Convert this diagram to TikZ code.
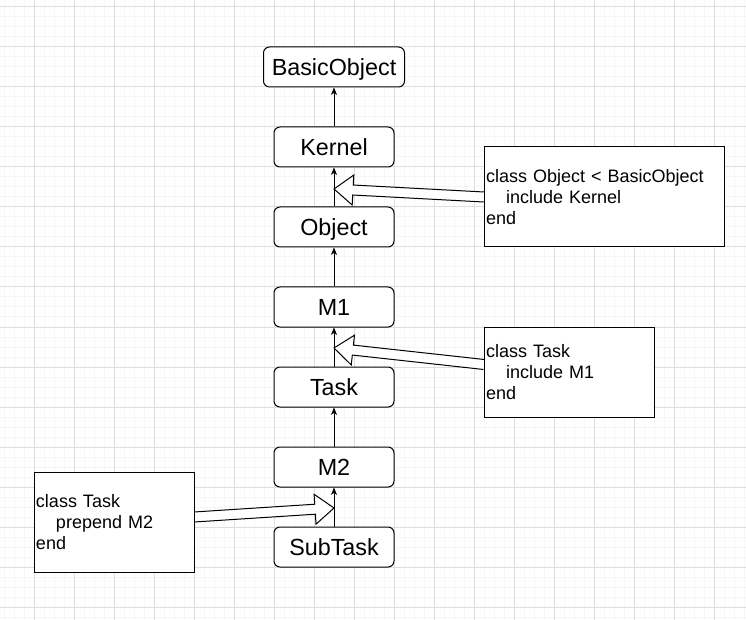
\documentclass[tikz,border=0pt]{standalone}
\usepackage{fontspec}
\setmainfont{Liberation Sans}
\usetikzlibrary{calc,arrows.meta}
\definecolor{gridmajor}{RGB}{222,222,222}
\definecolor{gridminor}{RGB}{246,246,246}
\tikzset{
  cls/.style={draw=black, line width=0.75pt, fill=white, rounded corners=4.5pt,
    minimum width=90pt, minimum height=30pt, inner sep=0pt,
    text height=12.5pt, text depth=0pt,
    font=\fontsize{17.5}{20}\selectfont},
  note/.style={draw=black, line width=0.75pt, fill=white, inner xsep=1.5pt, inner ysep=0pt,
    align=left, font=\fontsize{13.5}{15.75}\selectfont},
  conn/.style={line width=0.75pt, -{Stealth[length=5.5pt,width=4.5pt,inset=1.5pt]}},
  flexarr/.style={draw=black, line width=0.75pt, fill=white, line join=miter},
}
\newcommand\flexarrow[2]{%
  \coordinate (fa-h) at ($(#2)!14.25pt!(#1)$);
  \draw[flexarr] ($(#1)!3.75pt!90:(#2)$) -- ($(fa-h)!3.75pt!90:(#2)$)
    -- ($(fa-h)!11.25pt!90:(#2)$) -- (#2) -- ($(fa-h)!11.25pt!-90:(#2)$)
    -- ($(fa-h)!3.75pt!-90:(#2)$) -- ($(#1)!3.75pt!-90:(#2)$);
}
\newcommand\ind{\hspace*{15pt}}
\begin{document}
\begin{tikzpicture}[x=0.75pt, y=-0.75pt]
  \fill[white] (0,0) rectangle (746,620);
  \useasboundingbox (0,0) rectangle (746,620);
  \foreach \x in {4,14,...,744} \draw[gridminor, line width=0.75pt] (\x,0) -- (\x,620);
  \foreach \y in {7,17,...,617} \draw[gridminor, line width=0.75pt] (0,\y) -- (746,\y);
  \foreach \x in {34,74,...,714} \draw[gridmajor, line width=0.75pt] (\x,0) -- (\x,620);
  \foreach \y in {7,47,...,607} \draw[gridmajor, line width=0.75pt] (0,\y) -- (746,\y);

  \node[cls, minimum width=105.75pt] (basic) at (334,67) {BasicObject};
  \node[cls] (kernel) at (334,147) {Kernel};
  \node[cls] (object) at (334,227) {Object};
  \node[cls] (m1) at (334,307) {M1};
  \node[cls] (task) at (334,387) {Task};
  \node[cls] (m2) at (334,467) {M2};
  \node[cls] (subtask) at (334,547) {SubTask};

  \draw[conn] (kernel) -- (basic);
  \draw[conn] (object) -- (kernel);
  \draw[conn] (m1) -- (object);
  \draw[conn] (task) -- (m1);
  \draw[conn] (m2) -- (task);
  \draw[conn] (subtask) -- (m2);

  \coordinate (s1) at (484,197);
  \coordinate (t1) at (334,189);
  \coordinate (s2) at (484,364.5);
  \coordinate (t2) at (334,348);
  \coordinate (s3) at (194,517);
  \coordinate (t3) at (334,508);
  \flexarrow{s1}{t1}
  \flexarrow{s2}{t2}
  \flexarrow{s3}{t3}

  \node[note, minimum width=180pt, minimum height=75pt, text width=177pt] (n1) at (604,197)
    {class Object < BasicObject\\\ind include Kernel\\end};
  \node[note, minimum width=127.5pt, minimum height=67.5pt, text width=124.5pt] (n2) at (569,372)
    {class Task\\\ind include M1\\end};
  \node[note, minimum width=120pt, minimum height=75pt, text width=117pt] (n3) at (114,522)
    {class Task\\\ind prepend M2\\end};
\end{tikzpicture}
\end{document}
